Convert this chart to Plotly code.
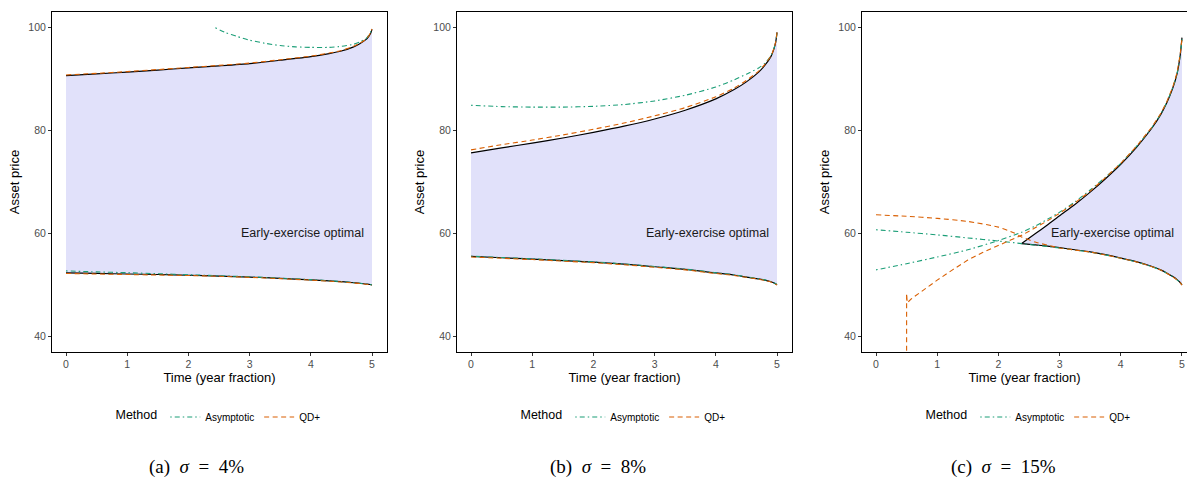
import plotly.graph_objects as go
import numpy as np

# ---------------- data ----------------
panel_captions = ["(a)", "(b)", "(c)"]
sigma_labels = ["4%", "8%", "15%"]
methods = ["Asymptotic", "QD+"]
x_ticks = [0, 1, 2, 3, 4, 5]
y_ticks = [40, 60, 80, 100]
region_label = "Early-exercise optimal"

# Panel (a) sigma = 4%
a_t = [0, 0.5, 1, 1.5, 2, 2.5, 3, 3.5, 4, 4.3, 4.5, 4.7, 4.8, 4.9, 4.95, 4.98, 5.0]
a_upper = [90.6, 90.95, 91.3, 91.7, 92.1, 92.5, 92.95, 93.6, 94.3, 94.9, 95.4, 96.2, 96.8, 97.6, 98.3, 98.9, 99.6]
a_lower = [52.3, 52.2, 52.1, 52.0, 51.85, 51.7, 51.5, 51.25, 50.95, 50.75, 50.6, 50.4, 50.3, 50.15, 50.08, 50.03, 50.0]
a_qd_upper = [90.75, 91.05, 91.4, 91.8, 92.2, 92.6, 93.05, 93.7, 94.4, 95.0, 95.5, 96.3, 96.9, 97.7, 98.4, 99.0, 99.7]
a_qd_lower = [52.2, 52.1, 52.0, 51.9, 51.8, 51.65, 51.45, 51.2, 50.9, 50.7, 50.55, 50.35, 50.25, 50.1, 50.05, 50.0, 49.95]
a_asy_up_t = [2.44, 2.6, 2.8, 3.0, 3.25, 3.5, 3.75, 4.0, 4.3, 4.5, 4.7, 4.8, 4.9, 4.95, 5.0]
a_asy_upper = [99.9, 99.0, 98.2, 97.5, 96.9, 96.45, 96.2, 96.1, 96.1, 96.3, 96.7, 97.15, 97.8, 98.5, 99.6]
a_asy_lower = [52.7, 52.5, 52.35, 52.15, 51.95, 51.75, 51.55, 51.3, 51.0, 50.8, 50.62, 50.42, 50.3, 50.15, 50.08, 50.03, 50.0]

# Panel (b) sigma = 8%
b_t = [0, 0.5, 1, 1.5, 2, 2.5, 3, 3.5, 4, 4.3, 4.5, 4.7, 4.8, 4.9, 4.95, 4.98, 5.0]
b_upper = [75.6, 76.6, 77.5, 78.5, 79.6, 80.8, 82.2, 83.9, 86.1, 87.9, 89.4, 91.3, 92.6, 94.3, 95.8, 97.2, 99.0]
b_lower = [55.5, 55.25, 55.0, 54.7, 54.4, 54.0, 53.5, 53.0, 52.3, 51.9, 51.5, 51.15, 50.9, 50.6, 50.35, 50.15, 50.0]
b_qd_upper = [76.2, 77.2, 78.1, 79.1, 80.2, 81.4, 82.8, 84.4, 86.5, 88.2, 89.7, 91.5, 92.8, 94.4, 95.9, 97.2, 99.0]
b_qd_lower = [55.4, 55.15, 54.9, 54.6, 54.3, 53.9, 53.4, 52.9, 52.2, 51.8, 51.45, 51.1, 50.85, 50.55, 50.3, 50.1, 49.95]
b_asy_upper = [84.85, 84.6, 84.5, 84.5, 84.65, 85.0, 85.7, 86.8, 88.4, 89.8, 90.9, 92.1, 93.0, 94.5, 95.9, 97.2, 99.0]
b_asy_lower = [55.55, 55.3, 55.05, 54.75, 54.45, 54.05, 53.55, 53.05, 52.35, 51.95, 51.55, 51.2, 50.95, 50.65, 50.4, 50.2, 50.05]

# Panel (c) sigma = 15%
c_t = [2.38, 2.6, 2.8, 3.0, 3.25, 3.5, 3.75, 4.0, 4.25, 4.5, 4.65, 4.75, 4.85, 4.92, 4.97, 5.0]
c_upper = [58.0, 59.9, 61.6, 63.4, 65.6, 68.0, 70.6, 73.4, 76.6, 80.3, 83.0, 85.3, 88.2, 91.0, 94.5, 98.0]
c_lower = [58.0, 57.75, 57.5, 57.2, 56.8, 56.4, 55.85, 55.2, 54.5, 53.6, 52.9, 52.3, 51.6, 51.0, 50.45, 50.0]
c_asy_t = [0, 0.5, 1, 1.5, 2, 2.38, 2.6, 2.8, 3.0, 3.25, 3.5, 3.75, 4.0, 4.25, 4.5, 4.65, 4.75, 4.85, 4.92, 4.97, 5.0]
c_asy_upper = [52.9, 54.1, 55.4, 56.8, 58.6, 60.2, 61.4, 62.7, 64.1, 66.1, 68.4, 70.9, 73.6, 76.8, 80.4, 83.1, 85.4, 88.3, 91.0, 94.5, 97.7]
c_asy_lower = [60.7, 60.2, 59.7, 59.1, 58.5, 58.0, 57.7, 57.45, 57.15, 56.75, 56.35, 55.8, 55.15, 54.45, 53.55, 52.85, 52.25, 51.55, 50.95, 50.4, 50.0]
c_qd_up_t = [0.5, 0.5, 0.51, 0.58, 0.8, 1.0, 1.25, 1.5, 1.75, 2.0, 2.2, 2.38, 2.6, 2.8, 3.0, 3.25, 3.5, 3.75, 4.0, 4.25, 4.5, 4.65, 4.75, 4.85, 4.92, 4.97, 5.0]
c_qd_upper = [37.2, 48.3, 46.5, 47.3, 49.2, 50.9, 52.9, 54.8, 56.3, 57.7, 58.7, 59.6, 61.0, 62.4, 63.9, 65.9, 68.2, 70.8, 73.6, 76.8, 80.5, 83.2, 85.5, 88.4, 91.2, 94.7, 97.8]
c_qd_lo_t = [0, 0.5, 1, 1.5, 2, 2.25, 2.38, 2.6, 2.8, 3.0, 3.25, 3.5, 3.75, 4.0, 4.25, 4.5, 4.65, 4.75, 4.85, 4.92, 4.97, 5.0]
c_qd_lower = [63.6, 63.3, 62.9, 62.3, 61.2, 60.1, 59.3, 58.3, 57.7, 57.15, 56.75, 56.35, 55.8, 55.15, 54.45, 53.55, 52.85, 52.25, 51.55, 50.95, 50.4, 49.95]

panels = [
    dict(t=a_t, up=a_upper, lo=a_lower,
         asy=[(a_asy_up_t, a_asy_upper), (a_t, a_asy_lower)],
         qd=[(a_t, a_qd_upper), (a_t, a_qd_lower)]),
    dict(t=b_t, up=b_upper, lo=b_lower,
         asy=[(b_t, b_asy_upper), (b_t, b_asy_lower)],
         qd=[(b_t, b_qd_upper), (b_t, b_qd_lower)]),
    dict(t=c_t, up=c_upper, lo=c_lower,
         asy=[(c_asy_t, c_asy_upper), (c_asy_t, c_asy_lower)],
         qd=[(c_qd_up_t, c_qd_upper), (c_qd_lo_t, c_qd_lower)]),
]

# ---------------- style ----------------
W, H = 1187, 477
FILL = "rgb(225,225,250)"
GREEN = "#1B9E77"
ORANGE = "#D95F02"
FONT = "Liberation Sans"
x_dom = [[52 / W, 387 / W], [457 / W, 792 / W], [862 / W, 1.0]]
x_rng = [[-0.229, 5.245], [-0.229, 5.245], [-0.229, 5.082]]
y_dom = [1 - 351.7 / H, 1 - 12.3 / H]
y_rng = [37.01, 102.91]
legend_x = [219.5 / W, 624.5 / W, 1029.5 / W]
caption_x = [196 / W, 598 / W, 1004 / W]
method_style = {"Asymptotic": dict(color=GREEN, dash="1.5px,3px,5px,3px"),
                "QD+": dict(color=ORANGE, dash="5px,3.5px")}


def shape_for(tx):
    # curves with a vertical jump are drawn straight; the rest smoothly
    return "linear" if len(set(tx)) < len(tx) else "spline"


fig = go.Figure()
for i, p in enumerate(panels):
    xa = "x" if i == 0 else f"x{i+1}"
    ya = "y" if i == 0 else f"y{i+1}"
    lg = "legend" if i == 0 else f"legend{i+1}"
    t = np.asarray(p["t"])
    poly_x = np.concatenate([t, t[::-1]])
    poly_y = np.concatenate([np.asarray(p["up"]), np.asarray(p["lo"])[::-1]])
    fig.add_trace(go.Scatter(x=poly_x, y=poly_y, fill="toself", fillcolor=FILL,
                             line=dict(width=0), mode="lines", showlegend=False,
                             hoverinfo="skip", xaxis=xa, yaxis=ya))
    for series in (p["up"], p["lo"]):
        fig.add_trace(go.Scatter(x=p["t"], y=series, mode="lines",
                                 line=dict(color="black", width=1.2, shape="spline", smoothing=0.6),
                                 showlegend=False, xaxis=xa, yaxis=ya))
    for m, key in zip(methods, ["asy", "qd"]):
        for j, (tx, ty) in enumerate(p[key]):
            fig.add_trace(go.Scatter(x=tx, y=ty, mode="lines", name=m,
                                     line=dict(width=1.1, shape=shape_for(tx), smoothing=0.6,
                                               **method_style[m]),
                                     legendgroup=m, showlegend=(j == 0), legend=lg,
                                     xaxis=xa, yaxis=ya))
    axis_common = dict(showline=True, linecolor="black", linewidth=1, mirror=True,
                       ticks="outside", ticklen=3, tickcolor="#333333", tickwidth=1,
                       showgrid=False, zeroline=False,
                       tickfont=dict(family=FONT, size=10.5, color="#4D4D4D"))
    fig.layout[f"xaxis{'' if i == 0 else i+1}"] = dict(
        domain=x_dom[i], range=x_rng[i], anchor=ya, tickvals=x_ticks,
        title=dict(text="Time (year fraction)", font=dict(family=FONT, size=13, color="black"),
                   standoff=3), automargin=False, **axis_common)
    fig.layout[f"yaxis{'' if i == 0 else i+1}"] = dict(
        domain=y_dom, range=y_rng, anchor=xa, tickvals=y_ticks,
        title=dict(text="Asset price", font=dict(family=FONT, size=13, color="black"),
                   standoff=5), automargin=False, **axis_common)
    fig.add_annotation(x=3.86, y=60, xref=xa, yref=ya, text=region_label, showarrow=False,
                       font=dict(family=FONT, size=12.5, color="#1a1a1a"))
    fig.add_annotation(x=caption_x[i], y=1 - 467 / H, xref="paper", yref="paper",
                       text=(f"{panel_captions[i]}&nbsp;&nbsp;<i>σ</i>&nbsp;&nbsp;=&nbsp;&nbsp;"
                             f"{sigma_labels[i]}"),
                       showarrow=False, xanchor="center", yanchor="middle",
                       font=dict(family="Liberation Serif", size=19, color="black"))
    fig.layout[lg] = dict(orientation="h", x=legend_x[i], y=1 - 417 / H,
                          xanchor="center", yanchor="middle",
                          title=dict(text="Method", font=dict(family=FONT, size=12.5, color="black")),
                          font=dict(family=FONT, size=10, color="black"),
                          bgcolor="rgba(0,0,0,0)", itemwidth=30)

fig.update_layout(width=W, height=H, margin=dict(l=0, r=0, t=0, b=0),
                  plot_bgcolor="white", paper_bgcolor="white",
                  font=dict(family=FONT))
fig.write_html("out.html", config={"displayModeBar": False},
               post_script="document.body.style.margin='0';document.body.style.overflow='hidden';")
